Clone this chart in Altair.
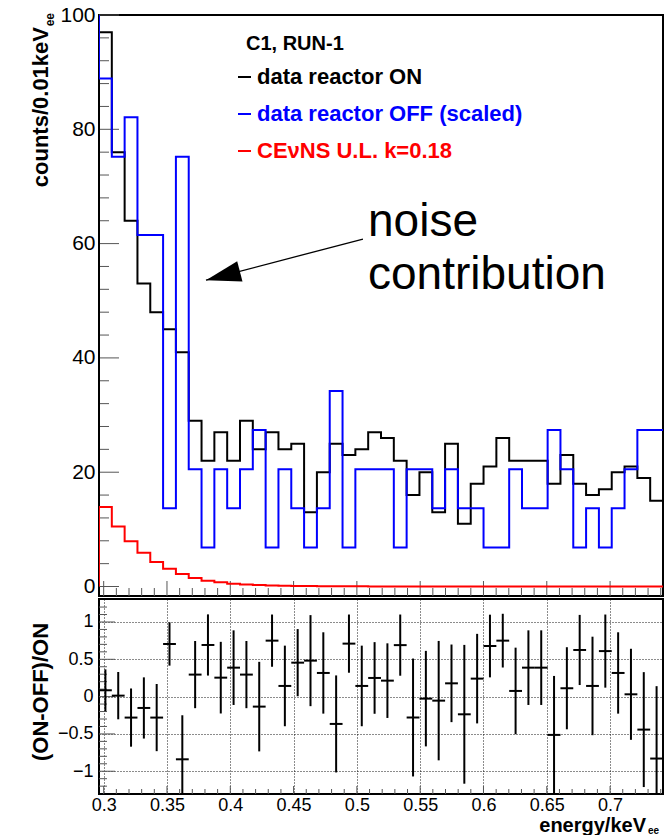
import altair as alt
import pandas as pd

# ---------------- data ----------------
bin_start = 0.2963
bin_width = 0.010125
n_bins = 44

on_counts = [97, 76, 64, 53, 48, 45, 41, 29, 22, 27,
             22, 29, 24, 27, 24, 25, 13, 20, 25, 23,
             24, 27, 26, 22, 16, 20, 13, 25, 11, 18,
             21, 26, 22, 22, 22, 18, 23, 18, 16, 17,
             20, 21, 19, 15]
off_scaled = [88.9, 75.2, 82.1, 61.5, 61.5, 13.7, 75.2, 20.5, 6.84, 20.5,
              13.7, 20.5, 27.4, 6.84, 20.5, 13.7, 6.84, 13.7, 34.2, 6.84,
              20.5, 20.5, 20.5, 6.84, 20.5, 20.5, 13.7, 20.5, 13.7, 13.7,
              6.84, 6.84, 20.5, 13.7, 13.7, 27.4, 20.5, 6.84, 13.7, 6.84,
              13.7, 20.5, 27.4, 27.4]
off_underflow = 110.0  # bin left of the visible range (clipped at the top)
cevns_ul = [13.9, 10.5, 7.9, 5.9, 4.3, 3.1, 2.2, 1.5, 1.0, 0.73,
            0.5, 0.35, 0.25, 0.18, 0.13, 0.09, 0.07, 0.05, 0.04, 0.03,
            0.03, 0.02, 0.02, 0.02, 0.01, 0.01, 0.01, 0.01, 0.01, 0.01,
            0.01, 0.01, 0.0, 0.0, 0.0, 0.0, 0.0, 0.0, 0.0, 0.0,
            0.0, 0.0, 0.0, 0.0]
ratio = [0.085, 0.013, -0.281, -0.152, -0.281, 0.705, -0.84, 0.295, 0.692, 0.254,
         0.388, 0.295, -0.134, 0.75, 0.143, 0.455, 0.482, 0.317, -0.366, 0.71,
         0.143, 0.25, 0.214, 0.69, -0.28, -0.027, -0.054, 0.178, -0.237, 0.241,
         0.678, 0.75, 0.076, 0.388, 0.388, -0.513, 0.112, 0.625, 0.143, 0.61,
         0.317, 0.031, -0.442, -0.83]
ratio_err = [0.28, 0.317, 0.39, 0.41, 0.45, 0.29, 0.59, 0.45, 0.41, 0.48,
             0.50, 0.45, 0.60, 0.35, 0.54, 0.45, 0.61, 0.545, 0.65, 0.39,
             0.54, 0.48, 0.50, 0.41, 0.79, 0.64, 0.80, 0.52, 0.93, 0.60,
             0.42, 0.36, 0.58, 0.50, 0.50, 0.79, 0.55, 0.47, 0.66, 0.49,
             0.545, 0.61, 0.77, 0.97]

top_y_ticks = [0, 20, 40, 60, 80, 100]
top_y_minor = [4, 8, 12, 16, 24, 28, 32, 36, 44, 48, 52, 56, 64, 68, 72, 76, 84, 88, 92, 96]
x_ticks = [0.3, 0.35, 0.4, 0.45, 0.5, 0.55, 0.6, 0.65, 0.7]
x_minor = [0.31, 0.32, 0.33, 0.34, 0.36, 0.37, 0.38, 0.39, 0.41, 0.42, 0.43, 0.44,
           0.46, 0.47, 0.48, 0.49, 0.51, 0.52, 0.53, 0.54, 0.56, 0.57, 0.58, 0.59,
           0.61, 0.62, 0.63, 0.64, 0.66, 0.67, 0.68, 0.69, 0.71, 0.72, 0.73, 0.74]
bot_y_ticks = [-1, -0.5, 0, 0.5, 1]
bot_y_minor = [-1.2, -1.1, -0.9, -0.8, -0.7, -0.6, -0.4, -0.3, -0.2, -0.1,
               0.1, 0.2, 0.3, 0.4, 0.6, 0.7, 0.8, 0.9, 1.1, 1.2]

legend_labels = ["data reactor ON", "data reactor OFF (scaled)", "CEνNS U.L. k=0.18"]
legend_colors = ["#000000", "#0000ff", "#ff0000"]

# arrow annotation (data coordinates of the upper pad)
arrow_tail = (0.5048, 60.8)
arrow_tip = (0.3808, 53.6)

# ---------------- tables ----------------
edges = [bin_start + i * bin_width for i in range(n_bins + 1)]
x_lo, x_hi = edges[0], edges[-1]


def step_table(vals, start=None, lead=None):
    xs_, ys_ = [], []
    if lead is not None:
        xs_.append(edges[0] - bin_width); ys_.append(lead)
    if start is not None:
        xs_.append(edges[0]); ys_.append(start)
    for i, v in enumerate(vals):
        xs_.append(edges[i]); ys_.append(v)
    xs_.append(edges[-1]); ys_.append(vals[-1])
    return pd.DataFrame({"x": xs_, "y": ys_, "o": list(range(len(xs_)))})


on_df = step_table(on_counts, start=0.0)
off_df = step_table(off_scaled, lead=off_underflow)
cev_df = step_table(cevns_ul, start=0.0)

centers = [edges[i] + bin_width / 2 for i in range(n_bins)]
ratio_df = pd.DataFrame({
    "xc": centers,
    "xl": edges[:-1],
    "xr": edges[1:],
    "r": ratio,
    "lo": [r - e for r, e in zip(ratio, ratio_err)],
    "hi": [r + e for r, e in zip(ratio, ratio_err)],
})

W = 564
H_TOP = 581
H_BOT = 195
FONT = "Liberation Sans"

xs = alt.Scale(domain=[x_lo, x_hi], nice=False, zero=False)
ys_top = alt.Scale(domain=[-1.66, 100], nice=False, zero=False)
ys_bot = alt.Scale(domain=[-1.305, 1.308], nice=False, zero=False)

AX_X_TOP = alt.Axis(labels=False, ticks=False, domain=False, grid=False, title=None)
AX_Y_TOP = alt.Axis(values=top_y_ticks, format="d", ticks=False, domain=False, grid=False,
                    title=None, labelPadding=4, labelFontSize=21)
AX_X_BOT = alt.Axis(values=x_ticks, format=".2~f", ticks=False, domain=False, grid=True,
                    gridDash=[1, 2], gridColor="#000000", gridOpacity=0.9, title=None,
                    labelPadding=2)
AX_Y_BOT = alt.Axis(values=bot_y_ticks, format="~g", ticks=False, domain=False, grid=True,
                    gridDash=[1, 2], gridColor="#000000", gridOpacity=0.9, title=None,
                    labelPadding=6)


def XT(f):
    return alt.X(f, type="quantitative", scale=xs, axis=AX_X_TOP)


def YT(f):
    return alt.Y(f, type="quantitative", scale=ys_top, axis=AX_Y_TOP)


def XB(f):
    return alt.X(f, type="quantitative", scale=xs, axis=AX_X_BOT)


def YB(f):
    return alt.Y(f, type="quantitative", scale=ys_bot, axis=AX_Y_BOT)


one = pd.DataFrame({"a": [0]})


def hist(df, color):
    return alt.Chart(df).mark_line(interpolate="step-after", clip=True, color=color,
                                   strokeWidth=2).encode(x=XT("x"), y=YT("y"), order="o:Q")


TICK = "#555555"
top_yt = alt.Chart(pd.DataFrame({"v": top_y_ticks})).mark_rule(color=TICK, strokeWidth=1).encode(
    y=YT("v"), x=alt.value(0), x2=alt.value(20))
top_ym = alt.Chart(pd.DataFrame({"v": top_y_minor})).mark_rule(color=TICK, strokeWidth=1).encode(
    y=YT("v"), x=alt.value(0), x2=alt.value(10))
top_xt = alt.Chart(pd.DataFrame({"v": x_ticks})).mark_rule(color=TICK, strokeWidth=1).encode(
    x=XT("v"), y=alt.value(H_TOP), y2=alt.value(H_TOP - 15))
top_xm = alt.Chart(pd.DataFrame({"v": x_minor})).mark_rule(color=TICK, strokeWidth=1).encode(
    x=XT("v"), y=alt.value(H_TOP), y2=alt.value(H_TOP - 8))

# legend (pixel positions inside the upper pad)
leg_title = alt.Chart(one).mark_text(text="C1, RUN-1", font=FONT, fontWeight="bold", fontSize=20,
                                     align="left", baseline="middle", color="black").encode(
    x=alt.value(147), y=alt.value(29))
leg_layers = []
for i, (lab, col) in enumerate(zip(legend_labels, legend_colors)):
    yy = 62 + 37 * i
    leg_layers.append(alt.Chart(one).mark_rule(color=col, strokeWidth=2).encode(
        x=alt.value(139), x2=alt.value(152), y=alt.value(yy)))
    leg_layers.append(alt.Chart(one).mark_text(text=lab, font=FONT, fontWeight="bold", fontSize=22,
                                               align="left", baseline="middle", color=col).encode(
        x=alt.value(158), y=alt.value(yy)))

noise1 = alt.Chart(one).mark_text(text="noise", font=FONT, fontSize=46, align="left",
                                  baseline="alphabetic", color="black").encode(
    x=alt.value(269), y=alt.value(221))
noise2 = alt.Chart(one).mark_text(text="contribution", font=FONT, fontSize=46, align="left",
                                  baseline="alphabetic", color="black").encode(
    x=alt.value(269), y=alt.value(274))

arrow_df = pd.DataFrame({"x": [arrow_tail[0]], "y": [arrow_tail[1]],
                         "x2": [arrow_tip[0]], "y2": [arrow_tip[1]]})
arrow_line = alt.Chart(arrow_df).mark_rule(color="black", strokeWidth=1.3).encode(
    x=XT("x"), y=YT("y"), x2="x2:Q", y2="y2:Q")
arrow_head = alt.Chart(arrow_df).mark_point(shape="M0,0L0.6,2L-0.6,2Z", filled=True, opacity=1,
                                            color="black", size=1225, angle=255.4).encode(
    x=XT("x2"), y=YT("y2"))

ytitle_top = alt.Chart(one).mark_text(text="counts/0.01keV", font=FONT, fontWeight="bold",
                                      fontSize=22, angle=270, align="right", baseline="middle",
                                      color="black").encode(x=alt.value(-58), y=alt.value(12))
ytitle_top_sub = alt.Chart(one).mark_text(text="ee", font=FONT, fontWeight="bold",
                                          fontSize=12, angle=270, align="right", baseline="middle",
                                          color="black").encode(x=alt.value(-49), y=alt.value(-2))

top = alt.layer(
    top_yt, top_ym, top_xt, top_xm,
    hist(on_df, "#000000"), hist(off_df, "#0000ff"), hist(cev_df, "#ff0000"),
    leg_title, *leg_layers, noise1, noise2, arrow_line, arrow_head,
    ytitle_top, ytitle_top_sub,
).properties(width=W, height=H_TOP)

# lower pad
bot_yt = alt.Chart(pd.DataFrame({"v": bot_y_ticks})).mark_rule(color=TICK, strokeWidth=1).encode(
    y=YB("v"), x=alt.value(0), x2=alt.value(16))
bot_ym = alt.Chart(pd.DataFrame({"v": bot_y_minor})).mark_rule(color=TICK, strokeWidth=1).encode(
    y=YB("v"), x=alt.value(0), x2=alt.value(8))
bot_xt = alt.Chart(pd.DataFrame({"v": x_ticks})).mark_rule(color=TICK, strokeWidth=1).encode(
    x=XB("v"), y=alt.value(H_BOT), y2=alt.value(H_BOT - 8))
bot_xm = alt.Chart(pd.DataFrame({"v": x_minor})).mark_rule(color=TICK, strokeWidth=1).encode(
    x=XB("v"), y=alt.value(H_BOT), y2=alt.value(H_BOT - 5))

err_v = alt.Chart(ratio_df).mark_rule(color="black", strokeWidth=2, clip=True).encode(
    x=XB("xc"), y=YB("lo"), y2="hi:Q")
err_h = alt.Chart(ratio_df).mark_rule(color="black", strokeWidth=2, clip=True).encode(
    x=XB("xl"), x2="xr:Q", y=YB("r"))

ytitle_bot = alt.Chart(one).mark_text(text="(ON-OFF)/ON", font=FONT, fontWeight="bold",
                                      fontSize=22, angle=270, align="center", baseline="middle",
                                      color="black").encode(x=alt.value(-58), y=alt.value(93))
xtitle = alt.Chart(one).mark_text(text="energy/keV", font=FONT, fontWeight="bold",
                                  fontSize=20, align="right", baseline="alphabetic",
                                  color="black").encode(x=alt.value(547), y=alt.value(233))
xtitle_sub = alt.Chart(one).mark_text(text="ee", font=FONT, fontWeight="bold",
                                      fontSize=10, align="left", baseline="alphabetic",
                                      color="black").encode(x=alt.value(549), y=alt.value(235))

bottom = alt.layer(
    bot_yt, bot_ym, bot_xt, bot_xm, err_v, err_h, ytitle_bot, xtitle, xtitle_sub
).properties(width=W, height=H_BOT)

chart = alt.vconcat(top, bottom, spacing=0).properties(
    padding={"left": 29, "top": 3, "right": 0, "bottom": 0},
    background="white",
).configure_view(stroke="black", strokeWidth=2).configure_axis(
    labelFont=FONT, labelFontSize=18, labelColor="black"
)

chart.save("out.html", embed_options={"renderer": "svg", "actions": False})
